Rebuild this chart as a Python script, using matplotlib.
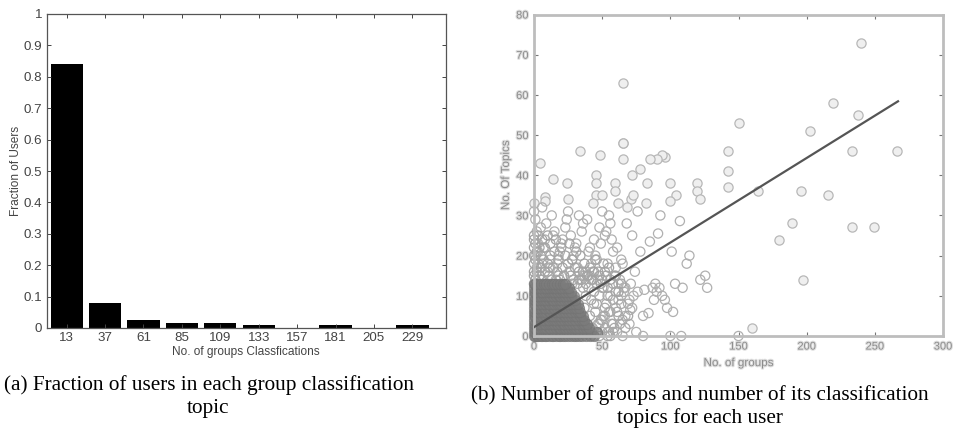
import matplotlib
matplotlib.use('Agg')
import matplotlib.pyplot as plt
import matplotlib.patheffects as pe

# left panel
bin_centers = [13, 37, 61, 85, 109, 133, 157, 181, 205, 229]
user_fraction = [0.84, 0.08, 0.025, 0.017, 0.017, 0.008, 0, 0.008, 0, 0.008]

far_groups = [65, 240, 219, 238, 202.5, 150, 142, 142, 142, 233, 266, 196, 216, 164, 119.5, 119.5, 121.5,
              104, 100, 100, 96, 94, 90, 85, 78, 72, 83, 65, 65, 65, 48.5, 34, 4.4, 14, 24, 45.5, 45.5, 59.5,
              59.5, 45.5, 43, 50, 8, 8, 25, 0, 61.5, 71, 82, 72.5, 68, 189, 180, 197, 233, 249.7, 160]
far_topics = [63, 73, 58, 55, 51, 53, 46, 41, 37, 46, 46, 36, 35, 36, 38, 36, 34,
              35, 33.5, 38, 44.5, 45, 44, 44, 41.5, 40, 38, 44, 48, 48, 45, 46, 43, 39, 38, 40, 38, 38,
              36, 35, 33, 35, 34.5, 33.5, 34, 33, 33, 34, 33, 35, 32, 28, 24, 14, 27, 27, 2]

mid_groups = [125.6, 122, 127, 114, 112, 101, 107, 92.7, 91, 85, 103.5, 109, 76, 81, 87, 89, 92, 96, 97.6, 102,
              84, 80, 70.6, 70, 61, 75, 65, 80, 100, 108, 150, 88, 90, 94,
              1, 2, 1, 3, 2, 1, 0, 4, 6, 3, 8, 5, 10, 12, 7, 14, 9, 16, 11, 18, 13, 6, 20, 15, 22, 17,
              24, 19, 26, 21, 28, 23, 30, 25, 32, 27, 34, 29, 36, 31, 38, 33, 40, 35, 42, 37,
              44, 39, 46, 41, 48, 43, 50, 45, 52, 47, 54, 49, 56, 51, 58, 53, 60, 55, 62, 57,
              64, 59, 66, 61, 68, 63, 70, 65, 72, 67, 74, 69, 76, 71, 78, 73, 56, 44, 36, 28,
              60, 52, 48, 40, 33, 26, 18, 10, 12, 67, 58, 54, 62, 66, 72, 55, 50, 64]
mid_topics = [15, 14, 12, 20, 18, 21, 28.6, 30, 25.5, 23.5, 13, 12, 11, 11.5, 12, 13, 12, 9, 7, 6,
              5.7, 5, 6.5, 3, 1, 1, 0, 0, 0, 0, 0, 9, 11, 10,
              14, 17, 20, 23, 26, 29, 31, 15, 18, 21, 24, 27, 16, 19, 22, 25, 28, 14, 17, 20, 30, 32, 23, 26, 15, 18,
              29, 21, 16, 24, 19, 27, 22, 31, 17, 25, 14, 20, 28, 23, 16, 30, 21, 26, 18, 15,
              24, 29, 19, 22, 27, 16, 31, 20, 25, 14, 18, 23, 28, 12, 21, 26, 17, 30, 13, 24,
              19, 15, 11, 22, 28, 14, 9, 18, 25, 12, 16, 8, 31, 13, 21, 10, 10, 8, 15, 13,
              7, 5, 3, 2, 14, 16, 15, 13, 17, 5, 3, 1, 9, 12, 7, 6, 4, 10]

# crowded part just above the block, and its loose right edge
near_groups = [0, 0, 0, 0, 0, 0, 0, 0, 1, 1, 1, 2, 2, 3, 3, 3, 4, 4, 5, 5, 6, 6, 7, 8, 8, 9, 10, 10, 11, 12, 12, 13,
               14, 15, 15, 16, 17, 18, 19, 20, 21, 22, 23, 24, 25, 26, 27, 28, 29, 30, 31, 32, 33, 34, 35, 37, 39,
               41, 43, 45, 47, 49, 51, 53, 55, 38, 42, 46, 50, 54, 58, 62, 36, 40, 44, 48, 52, 56, 60, 64]
near_topics = [13, 15, 16, 18, 20, 22, 24, 25, 14, 19, 23, 16, 21, 13, 18, 25, 15, 22, 17, 20, 14, 24, 19, 16, 22,
               13, 18, 25, 15, 20, 23, 14, 17, 21, 13, 24, 16, 19, 14, 22, 17, 15, 20, 13, 18, 23, 15, 19, 14, 17,
               21, 13, 16, 20, 14, 18, 15, 17, 14, 19, 16, 13, 18, 15, 17, 13, 14, 13, 14, 12, 13, 11, 16, 15, 16, 15, 16, 14, 15, 13]
fringe_groups = [36, 38, 40, 42, 44, 46, 48, 50, 52, 54, 56, 58, 60, 62, 64, 37, 41, 45, 49, 53, 57, 61, 65, 39, 43,
                 47, 51, 55, 59, 63, 42, 46, 50, 54, 58, 44, 48, 52, 56, 67, 69]
fringe_topics = [12, 10, 12, 9, 11, 8, 10, 12, 7, 10, 6, 9, 11, 5, 8, 7, 5, 6, 4, 8, 3, 6, 4, 3, 2,
                 3, 5, 1, 2, 3, 0, 1, 1, 0, 1, 0, 0, 2, 0, 2, 5]

# one list of group counts per topic count 0..13, the solid block at bottom left
block_groups = [
    [0, 1, 2, 3, 5, 6, 8, 9, 11, 13, 14, 16, 18, 19, 21, 23, 25, 27, 29, 31, 33, 35, 38, 41, 44],
    [0, 1, 2, 4, 5, 7, 9, 10, 12, 14, 15, 17, 19, 20, 22, 24, 26, 28, 30, 32, 34, 37, 39, 42, 46],
    [0, 1, 3, 4, 6, 7, 9, 11, 12, 14, 16, 18, 19, 21, 23, 25, 27, 29, 31, 33, 36, 38, 40],
    [0, 1, 2, 4, 5, 7, 8, 10, 12, 13, 15, 17, 19, 21, 22, 24, 26, 28, 30, 32, 35, 37, 39],
    [0, 2, 3, 5, 6, 8, 10, 11, 13, 15, 16, 18, 20, 22, 24, 26, 28, 30, 33, 35, 37],
    [0, 1, 3, 4, 6, 8, 9, 11, 13, 14, 16, 18, 20, 22, 23, 25, 27, 29, 31, 34, 36],
    [0, 1, 2, 4, 6, 7, 9, 11, 12, 14, 16, 18, 19, 21, 23, 25, 27, 30, 32, 34],
    [0, 2, 3, 5, 7, 8, 10, 12, 14, 15, 17, 19, 21, 23, 25, 27, 29, 31, 33],
    [0, 1, 3, 4, 6, 8, 10, 11, 13, 15, 17, 18, 20, 22, 24, 26, 28, 30, 32],
    [0, 1, 2, 4, 6, 7, 9, 11, 13, 14, 16, 18, 20, 22, 24, 26, 28, 30],
    [0, 2, 3, 5, 7, 9, 10, 12, 14, 16, 18, 19, 21, 23, 25, 27, 29],
    [0, 1, 3, 5, 6, 8, 10, 12, 13, 15, 17, 19, 21, 23, 25, 27],
    [0, 2, 4, 5, 7, 9, 11, 13, 15, 16, 18, 20, 22, 24, 26],
    [0, 1, 3, 5, 7, 9, 11, 13, 15, 17, 19, 21, 23],
]

fit_groups = [0, 267]
fit_topics = [2.2, 58.4]

left_ticks_y = [0, 0.1, 0.2, 0.3, 0.4, 0.5, 0.6, 0.7, 0.8, 0.9, 1]
left_labels_y = ['0', '0.1', '0.2', '0.3', '0.4', '0.5', '0.6', '0.7', '0.8', '0.9', '1']
right_ticks_x = [0, 50, 100, 150, 200, 250, 300]
right_ticks_y = [0, 10, 20, 30, 40, 50, 60, 70, 80]

W, H = 959, 428
fig = plt.figure(figsize=(W / 100, H / 100), dpi=100)
plt.rcParams['font.family'] = ['Liberation Sans', 'DejaVu Sans']

def pixel_axes(x0, y0, x1, y1):
    return fig.add_axes([x0 / W, 1 - y1 / H, (x1 - x0) / W, (y1 - y0) / H])

# (a) bars
ax = pixel_axes(46.5, 14, 446, 328)
ax.bar(bin_centers, user_fraction, width=20.2, color='black')
ax.set_xlim(0.4, 250)
ax.set_ylim(0, 1)
ax.set_xticks(bin_centers)
ax.set_yticks(left_ticks_y)
ax.set_yticklabels(left_labels_y)
ax.tick_params(direction='in', top=True, right=True, length=3, width=0.7, labelsize=9.6, colors='#444444', pad=3)
ax.set_xlabel('No. of groups Classfications', fontsize=8.6, color='#444444', labelpad=1)
ax.set_ylabel('Fraction of Users', fontsize=8.6, color='#444444', labelpad=1)
for s in ax.spines.values():
    s.set_color('#555555')
    s.set_linewidth(0.9)

# (b) scatter
blur = [pe.withStroke(linewidth=1.6, foreground='#dedede')]
ax2 = pixel_axes(534, 14.5, 943, 336)
ax2.scatter(far_groups, far_topics, s=44, facecolors='#efefef', edgecolors='#b8b8b8', linewidths=0.9, clip_on=False, zorder=2)
ax2.scatter(mid_groups, mid_topics, s=44, facecolors='none', edgecolors='#b0b0b0', linewidths=0.9, clip_on=False, zorder=2)
ax2.scatter(near_groups, near_topics, s=44, facecolors='none', edgecolors='#a4a4a4', linewidths=0.9, clip_on=False, zorder=2)
ax2.scatter(fringe_groups, fringe_topics, s=44, facecolors='none', edgecolors='#a8a8a8', linewidths=0.9, clip_on=False, zorder=2)
for topics, groups in enumerate(block_groups):
    ax2.scatter(groups, [topics] * len(groups), s=55, facecolors='#7c7c7c', edgecolors='#747474', linewidths=0.6,
                alpha=0.7, clip_on=False, zorder=2)
ax2.plot(fit_groups, fit_topics, color='#555555', lw=1.6, zorder=3)
ax2.set_xlim(0, 300)
ax2.set_ylim(0, 80)
ax2.set_xticks(right_ticks_x)
ax2.set_yticks(right_ticks_y)
ax2.tick_params(direction='in', top=True, right=True, length=3, width=0.8, labelsize=8, color='#777777',
                labelcolor='#8c8c8c', pad=4)
for lab in ax2.get_xticklabels() + ax2.get_yticklabels():
    lab.set_path_effects(blur)
ax2.set_xlabel('No. of groups', fontsize=8.4, color='#8c8c8c', labelpad=4, path_effects=blur)
ax2.set_ylabel('No. Of Topics', fontsize=8.4, color='#8c8c8c', labelpad=3, path_effects=blur)
for s in ax2.spines.values():
    s.set_color('#bdbdbd')
    s.set_linewidth(2)

# captions
cap = dict(family='Liberation Serif', fontsize=15.3, color='black', ha='center', va='baseline')
fig.text(209 / W, 1 - 390 / H, '(a) Fraction of users in each group classification', **cap)
fig.text(208 / W, 1 - 413 / H, 'topic', **cap)
fig.text(700 / W, 1 - 400 / H, '(b) Number of groups and number of its classification', **cap)
fig.text(700 / W, 1 - 423 / H, 'topics for each user', **cap)

fig.savefig('out.png', dpi=100)
